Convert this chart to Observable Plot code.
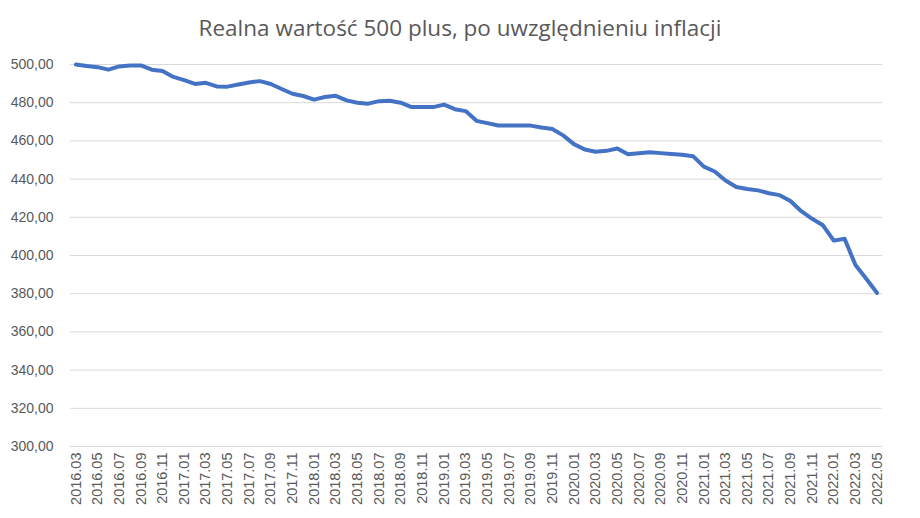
<!DOCTYPE html>
<html>
<head>
<meta charset="utf-8">
<script src="https://cdn.jsdelivr.net/npm/d3@7"></script>
<script src="https://cdn.jsdelivr.net/npm/@observablehq/plot@0.6"></script>
<style>
  html, body { margin: 0; padding: 0; background: #fff; }
  #title { height: 50px; line-height: 56px; text-align: center; font-family: "Open Sans", sans-serif; font-size: 22.5px; color: #595959; }
</style>
</head>
<body>
<div id="title">Realna wartość 500 plus, po uwzględnieniu inflacji</div>
<div id="chart"></div>
<script>
const months = [
  "2016.03","2016.04","2016.05","2016.06","2016.07","2016.08","2016.09","2016.10","2016.11","2016.12",
  "2017.01","2017.02","2017.03","2017.04","2017.05","2017.06","2017.07","2017.08","2017.09","2017.10","2017.11","2017.12",
  "2018.01","2018.02","2018.03","2018.04","2018.05","2018.06","2018.07","2018.08","2018.09","2018.10","2018.11","2018.12",
  "2019.01","2019.02","2019.03","2019.04","2019.05","2019.06","2019.07","2019.08","2019.09","2019.10","2019.11","2019.12",
  "2020.01","2020.02","2020.03","2020.04","2020.05","2020.06","2020.07","2020.08","2020.09","2020.10","2020.11","2020.12",
  "2021.01","2021.02","2021.03","2021.04","2021.05","2021.06","2021.07","2021.08","2021.09","2021.10","2021.11","2021.12",
  "2022.01","2022.02","2022.03","2022.04","2022.05"
];
const values = [
  500.0, 499.2, 498.6, 497.3, 499.0, 499.5, 499.5, 497.3, 496.6, 493.5,
  491.8, 489.8, 490.4, 488.5, 488.4, 489.5, 490.6, 491.3, 489.8, 487.2, 484.7, 483.5,
  481.6, 483.0, 483.6, 481.2, 480.0, 479.5, 480.8, 481.0, 480.0, 477.7, 477.7, 477.7,
  479.0, 476.6, 475.6, 470.5, 469.3, 468.1, 468.0, 468.0, 468.0, 467.0, 466.2, 462.9,
  458.3, 455.5, 454.3, 454.8, 456.0, 453.0, 453.5, 454.1, 453.6, 453.1, 452.7, 452.0,
  446.5, 444.0, 439.3, 435.9, 434.8, 434.1, 432.6, 431.6, 428.5, 423.2, 419.2, 415.8,
  407.8, 408.8, 395.0, 387.8, 380.4
];
const yTicks = [300, 320, 340, 360, 380, 400, 420, 440, 460, 480, 500];
const xTickLabels = months.filter((d, i) => i % 2 === 0);

const data = months.map((m, i) => ({month: m, value: values[i]}));
const fmt = v => v.toFixed(2).replace(".", ",");

const chart = Plot.plot({
  width: 920,
  height: 468,
  marginTop: 14,
  marginBottom: 72,
  marginLeft: 70,
  marginRight: 38,
  style: { fontFamily: "'Liberation Sans', Arial, sans-serif", fontSize: "14px", color: "#595959", background: "#fff" },
  x: { type: "point", domain: months, padding: 0.5 },
  y: { domain: [300, 500] },
  marks: [
    Plot.ruleY(yTicks, { stroke: "#d9d9d9", strokeWidth: 1 }),
    Plot.axisY({ ticks: yTicks, tickFormat: fmt, tickSize: 0, tickPadding: 17, fill: "#595959", fontSize: 14, label: null }),
    Plot.axisX({ ticks: xTickLabels, tickSize: 0, tickPadding: 6, tickRotate: -90, fill: "#595959", fontSize: 14.5, label: null }),
    Plot.line(data, { x: "month", y: "value", stroke: "#4472C4", strokeWidth: 4, strokeLinejoin: "round", strokeLinecap: "round" })
  ]
});
document.getElementById("chart").appendChild(chart);
</script>
</body>
</html>
